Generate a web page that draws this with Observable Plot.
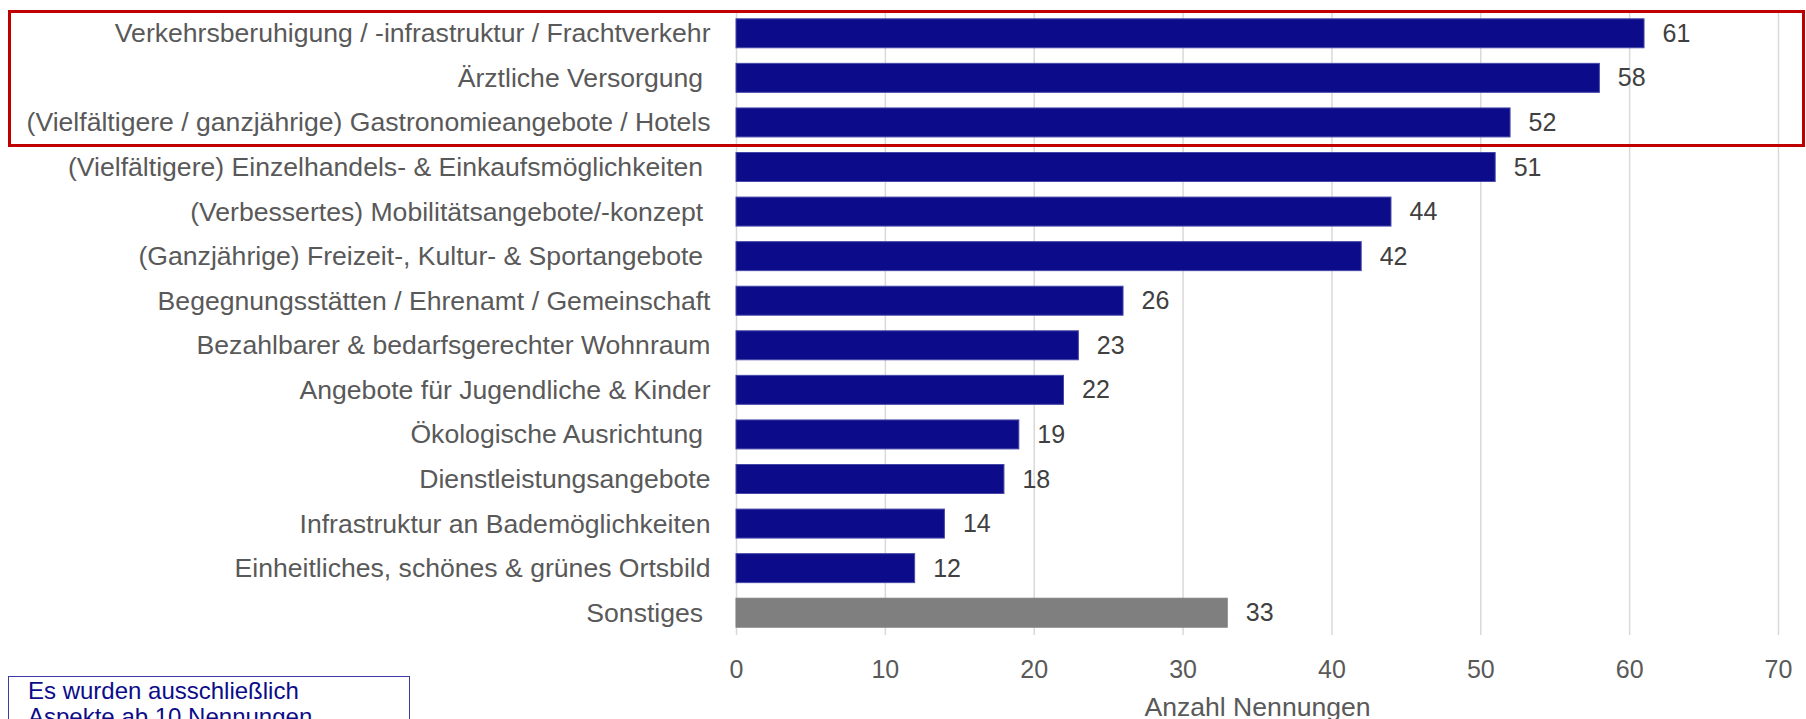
<!DOCTYPE html>
<html>
<head>
<meta charset="utf-8">
<script src="https://cdn.jsdelivr.net/npm/d3@7"></script>
<script src="https://cdn.jsdelivr.net/npm/@observablehq/plot@0.6"></script>
<style>
  html, body { margin: 0; padding: 0; background: #fff; overflow: hidden; }
  body { width: 1806px; height: 719px; position: relative; font-family: "Liberation Sans", Arial, sans-serif; }
  #chart { position: absolute; left: 0; top: 0; }
  #hilite { position: absolute; box-sizing: border-box; border: 3px solid #c00000; pointer-events: none; }
  #note { position: absolute; left: 8px; top: 676px; width: 402px; height: 80px; box-sizing: border-box;
          border: 1.5px solid #3c3ca4; color: #0c0c8a; font-size: 24px; line-height: 26px;
          padding: 1px 0 0 19px; }
</style>
</head>
<body>
<div id="chart"></div>
<div id="hilite"></div>
<div id="note">Es wurden ausschließlich<br>Aspekte ab 10 Nennungen</div>
<script>
const categories = [
  "Verkehrsberuhigung / -infrastruktur / Frachtverkehr",
  "Ärztliche Versorgung\u00a0",
  "(Vielfältigere / ganzjährige) Gastronomieangebote / Hotels",
  "(Vielfältigere) Einzelhandels- & Einkaufsmöglichkeiten\u00a0",
  "(Verbessertes) Mobilitätsangebote/-konzept\u00a0",
  "(Ganzjährige) Freizeit-, Kultur- & Sportangebote\u00a0",
  "Begegnungsstätten / Ehrenamt / Gemeinschaft",
  "Bezahlbarer & bedarfsgerechter Wohnraum",
  "Angebote für Jugendliche & Kinder",
  "Ökologische Ausrichtung\u00a0",
  "Dienstleistungsangebote",
  "Infrastruktur an Bademöglichkeiten",
  "Einheitliches, schönes & grünes Ortsbild",
  "Sonstiges\u00a0"
];
const values = [61, 58, 52, 51, 44, 42, 26, 23, 22, 19, 18, 14, 12, 33];
const groups = ["Aspekt","Aspekt","Aspekt","Aspekt","Aspekt","Aspekt","Aspekt","Aspekt","Aspekt","Aspekt","Aspekt","Aspekt","Aspekt","Sonstiges"];
const xTicks = [0, 10, 20, 30, 40, 50, 60, 70];
const xTitle = "Anzahl Nennungen";
const highlighted = [categories[0], categories[2]];

const data = categories.map((c, i) => ({category: c, value: values[i], group: groups[i]}));

const plot = Plot.plot({
  width: 1806,
  height: 719,
  marginLeft: 736,
  marginRight: 28,
  marginTop: 11,
  marginBottom: 84,
  style: {fontFamily: "'Liberation Sans', Arial, sans-serif", color: "#595959", background: "transparent"},
  x: {domain: [0, 70], label: null},
  y: {domain: categories, paddingInner: 0.35, paddingOuter: 0.175, round: false, label: null},
  color: {domain: ["Aspekt", "Sonstiges"], range: ["#0c0c8a", "#7f7f7f"]},
  marks: [
    Plot.gridX(xTicks, {stroke: "#d9d9d9", strokeOpacity: 1, strokeWidth: 1.5}),
    Plot.barX(data, {x: "value", y: "category", fill: "group",
      stroke: d => d.group === "Sonstiges" ? "#7f7f7f" : "#4646a8", strokeWidth: 1}),
    Plot.text(data, {x: "value", y: "category", text: d => String(d.value),
      textAnchor: "start", dx: 18, fontSize: 25, fill: "#404040"}),
    Plot.axisY({tickSize: 0, tickPadding: 26, fontSize: 26.6, label: null}),
    Plot.axisX({ticks: xTicks, tickSize: 0, tickPadding: 25, fontSize: 25, label: null}),
    Plot.text([xTitle], {frameAnchor: "bottom", dy: 72, text: d => d, fontSize: 26.6,
      lineAnchor: "middle", fill: "#595959"})
  ]
});
document.getElementById("chart").appendChild(plot);

const ys = plot.scale("y");
const top0 = ys.apply(highlighted[0]);
const bot0 = ys.apply(highlighted[1]) + ys.bandwidth;
const box = document.getElementById("hilite");
box.style.left = "8px";
box.style.width = (1806 - 8 - 1) + "px";
box.style.top = (top0 - 9) + "px";
box.style.height = (bot0 + 10 - (top0 - 9)) + "px";
</script>
</body>
</html>
